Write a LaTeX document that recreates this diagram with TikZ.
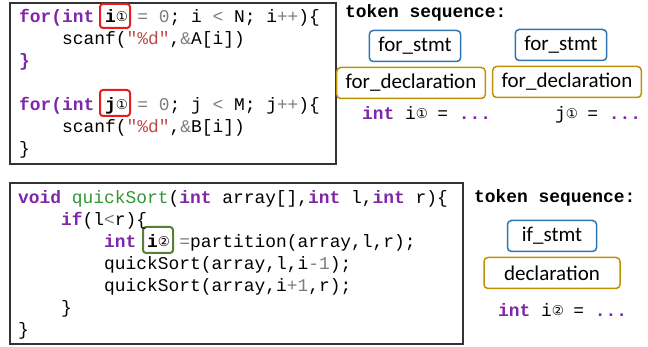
\documentclass[tikz,border=0pt]{standalone}
\usepackage{fontspec}
\usetikzlibrary{positioning}

\newfontfamily\codefont{Liberation Mono}
\newfontfamily\tokfont{Carlito}
\newfontfamily\circfont{DejaVu Sans}

\definecolor{kwpurple}{RGB}{128,38,168}
\definecolor{fngreen}{RGB}{52,150,52}
\definecolor{strred}{RGB}{192,72,72}
\definecolor{opgray}{RGB}{125,125,125}
\definecolor{hlred}{RGB}{232,28,28}
\definecolor{hlgreen}{RGB}{84,130,53}
\definecolor{stmtblue}{RGB}{46,117,182}
\definecolor{declgold}{RGB}{191,144,0}

\newcommand\kw[1]{{\bfseries\color{kwpurple}#1}}
\newcommand\fn[1]{{\color{fngreen}#1}}
\newcommand\str[1]{{\color{strred}#1}}
\newcommand\gy[1]{{\color{opgray}#1}}
\newcommand\circno[1]{\makebox[0.6em][l]{\raisebox{1.5pt}{\circfont\fontsize{13.5}{13.5}\selectfont #1}}}

\tikzset{
  code/.style={anchor=base west, inner sep=0pt, font=\codefont\fontsize{17.9}{20}\selectfont},
  frame/.style={draw=black!80, line width=1.1pt},
  hlbox/.style={line width=2pt, rounded corners=3pt},
  tokbox/.style={draw, line width=1.5pt, rounded corners=4pt, inner xsep=9pt,
    minimum height=31pt, font=\tokfont\fontsize{21}{22}\selectfont},
  stmtbox/.style={tokbox, draw=stmtblue},
  declbox/.style={tokbox, draw=declgold},
}

\begin{document}
\begin{tikzpicture}[x=1pt,y=-1pt,on grid]
\useasboundingbox (0,0) rectangle (648,347);

% first example: two loops
\draw[frame] (10,3) rectangle (336,164);
\draw[hlbox, draw=hlred] (100,4) rectangle (130,28);
\draw[hlbox, draw=hlred] (100,90) rectangle (130,116);
\node[code] (c1) at (19,23) {\kw{for(int} \textbf{i}\circno{①} \gy{= 0}; i \gy{<} N; i\gy{++})\{};
\node[code] (c2) at (62,45) {scanf(\str{"\%d"},\gy{\&}A[i])};
\node[code] (c3) at (19,67) {\kw{\}}};
\node[code] (c5) at (19,111) {\kw{for(int} \textbf{j}\circno{①} \gy{= 0}; j \gy{<} M; j\gy{++})\{};
\node[code] (c6) at (62,133) {scanf(\str{"\%d"},\gy{\&}B[i])};
\node[code] (c7) at (19,155) {\}};

\node[code] (ts1) at (345,18) {\bfseries token sequence:};
\node[stmtbox] (fs1) at (415,46) {for\_stmt};
\node[declbox, below=37pt of fs1, xshift=-4pt] (fd1) {for\_declaration};
\node[stmtbox] (fs2) at (561,45) {for\_stmt};
\node[declbox, below=37pt of fs2, xshift=6pt] (fd2) {for\_declaration};
\node[code] (tk1) at (362,120) {\kw{int} i\circno{①} = \kw{...}};
\node[code] (tk2) at (555,120) {j\circno{①} = \kw{...}};

% second example: quickSort
\draw[frame] (10,183) rectangle (463,344);
\draw[hlbox, draw=hlgreen] (143,227) rectangle (173,253);
\node[code] (q1) at (18,204) {\kw{void} \fn{quickSort}(\kw{int} array[],\kw{int} l,\kw{int} r)\{};
\node[code] (q2) at (61,226) {\kw{if}(l\gy{<}r)\{};
\node[code] (q3) at (104,248) {\kw{int} \textbf{i}\circno{②} \gy{=}partition(array,l,r);};
\node[code] (q4) at (104,270) {quickSort(array,l,i\gy{-1});};
\node[code] (q5) at (104,292) {quickSort(array,i\gy{+1},r);};
\node[code] (q6) at (61,314) {\}};
\node[code] (q7) at (18,336) {\}};

\node[code] (ts2) at (474,203) {\bfseries token sequence:};
\node[stmtbox, minimum width=89pt] (ifs) at (552,236) {if\_stmt};
\node[declbox, minimum width=136pt, below=37pt of ifs] (decl) {declaration};
\node[code] (tk3) at (498,317) {\kw{int} i\circno{②} = \kw{...}};

\end{tikzpicture}
\end{document}
